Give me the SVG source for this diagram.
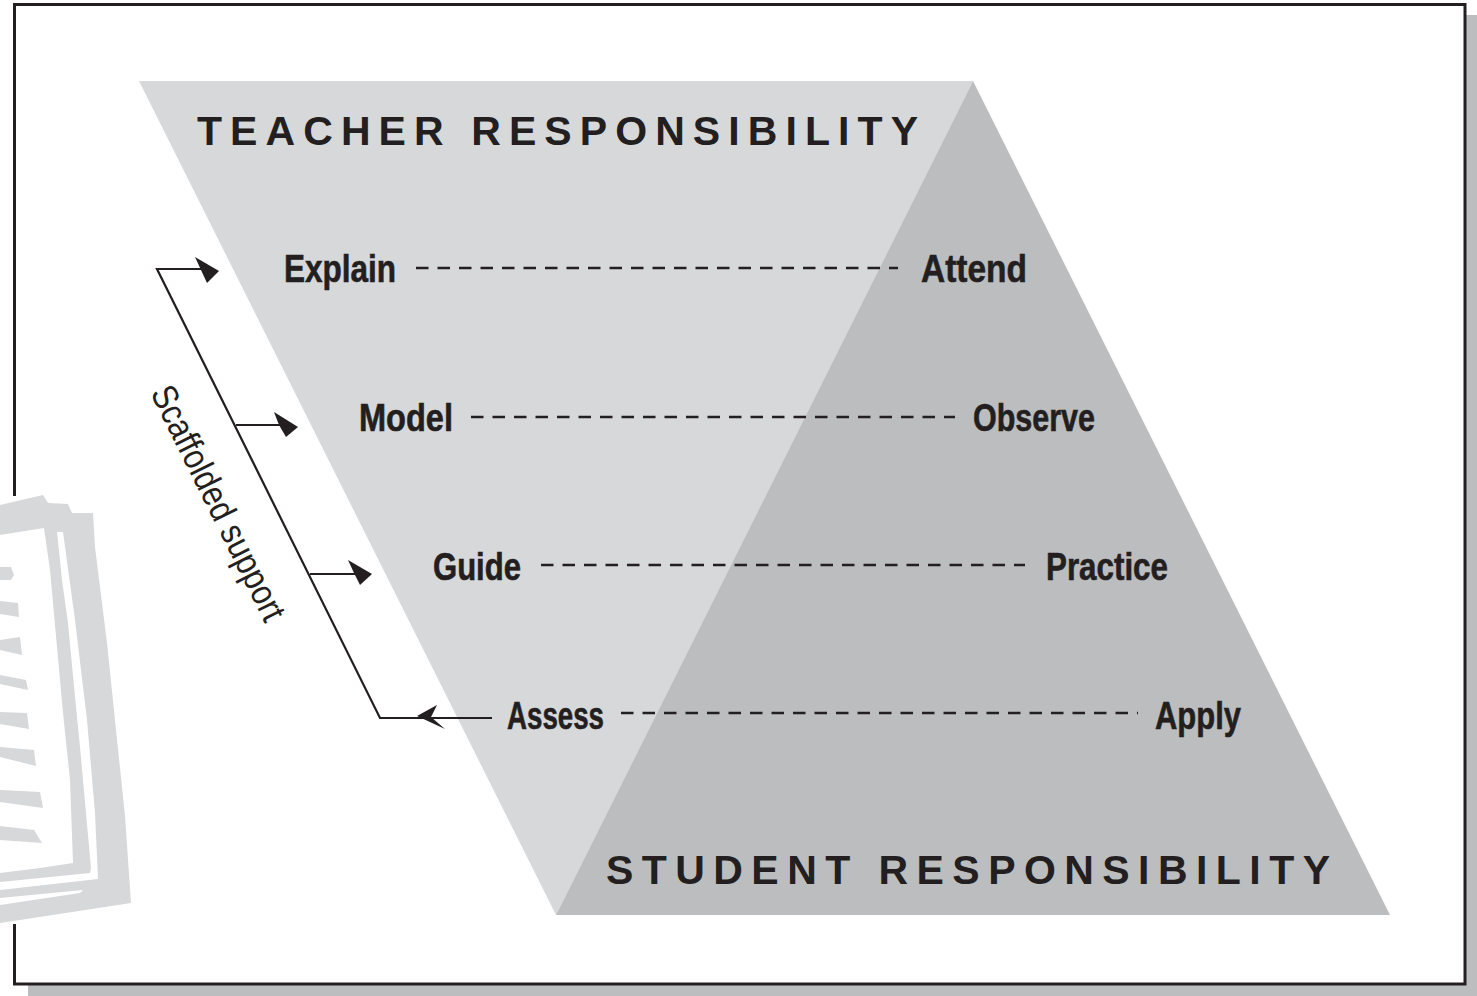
<svg xmlns="http://www.w3.org/2000/svg" width="1477" height="996" viewBox="0 0 1477 996">
<style>
text{font-family:"Liberation Sans Narrow","Liberation Sans",Arial,sans-serif;fill:#231f20}
.l{font-weight:700;font-size:38px;stroke:#231f20;stroke-width:.6px}
.h{font-weight:700;font-size:41px}
.s{font-size:36px}
.d{fill:none;stroke:#231f20;stroke-width:2.5;stroke-dasharray:12.5 9}
.c{fill:none;stroke:#231f20;stroke-width:2.2}
.a{fill:#231f20}
.b{fill:#d7d8da}
</style>
<rect width="1477" height="996" fill="#fff"/>
<g id="frame">
<path d="M28 985H1466V15H1477V996H28Z" fill="#bcbdbf"/>
<rect x="14.500" y="4.500" width="1450.500" height="979.500" fill="#fff" stroke="#231f20" stroke-width="3"/>
</g>
<g id="book">
<rect x="0" y="496" width="132" height="428" fill="#fff"/>
<path class="b" fill-rule="evenodd" d="M0 505L43 495L48 503L68 504L72 513L93 513L95 547L107 643L115 720L125 816L131 903L20 920L0 923Z
M0 535L44 528L50 570L57 647L63 713L70 780L73 863L40 868L0 873Z
M57 532L63 532L75 620L87 720L95 813L98 879L0 890L0 882L90 873L91 868L80 747L75 697L68 623L62 580Z
M0 898L83 890L80 893L0 905Z"/>
<path class="b" d="M0 567L11 567L14 575L11 580L0 580ZM0 601L18 603L19 617L0 614ZM0 640L20 637L22 655L0 650ZM0 675L26 680L28 690L0 684ZM0 712L27 713L29 729L0 724ZM0 747L34 750L36 766L0 757ZM0 790L40 792L43 808L0 802ZM0 826L34 830L42 843L0 840Z"/>
</g>
<g id="triangles">
<path id="teacher-triangle" d="M139 81H973L556 915Z" fill="#d7d8da"/>
<path id="student-triangle" d="M973 81L1390 915H556Z" fill="#bcbdbf"/>
</g>
<g id="connectors">
<path class="d" d="M416 268H898"/>
<path class="d" d="M471 417H955"/>
<path class="d" d="M541 565H1025"/>
<path class="d" d="M621 713H1138"/>
<path class="c" d="M205 269H157L380 718H492"/>
<path class="c" d="M236 425H282"/>
<path class="c" d="M310 574H355"/>
<path class="a" d="M195 257L219 271L207 283L201 270Z"/>
<path class="a" d="M274 412L298 427L286 437L279 425Z"/>
<path class="a" d="M348 560L372 574L360 585L354 573Z"/>
<path class="a" d="M417 716L437 705L431 717L445 729Z"/>
</g>
<g id="teacher-label"><text class="h" x="197" y="145" textLength="721" lengthAdjust="spacing">TEACHER  RESPONSIBILITY</text></g>
<g id="student-label"><text class="h" x="606" y="884" textLength="724" lengthAdjust="spacing">STUDENT  RESPONSIBILITY</text></g>
<g id="explain"><text class="l" x="284" y="282" textLength="112" lengthAdjust="spacingAndGlyphs">Explain</text></g>
<g id="attend"><text class="l" x="921" y="282" textLength="106" lengthAdjust="spacingAndGlyphs">Attend</text></g>
<g id="model"><text class="l" x="359" y="431" textLength="94" lengthAdjust="spacingAndGlyphs">Model</text></g>
<g id="observe"><text class="l" x="973" y="431" textLength="122" lengthAdjust="spacingAndGlyphs">Observe</text></g>
<g id="guide"><text class="l" x="433" y="580" textLength="88" lengthAdjust="spacingAndGlyphs">Guide</text></g>
<g id="practice"><text class="l" x="1046" y="580" textLength="122" lengthAdjust="spacingAndGlyphs">Practice</text></g>
<g id="assess"><text class="l" x="507" y="729" textLength="97" lengthAdjust="spacingAndGlyphs">Assess</text></g>
<g id="apply"><text class="l" x="1155" y="729" textLength="86" lengthAdjust="spacingAndGlyphs">Apply</text></g>
<g id="scaffolded"><text class="s" transform="translate(150 393) rotate(63.5)" textLength="258" lengthAdjust="spacingAndGlyphs">Scaffolded support</text></g>
</svg>
